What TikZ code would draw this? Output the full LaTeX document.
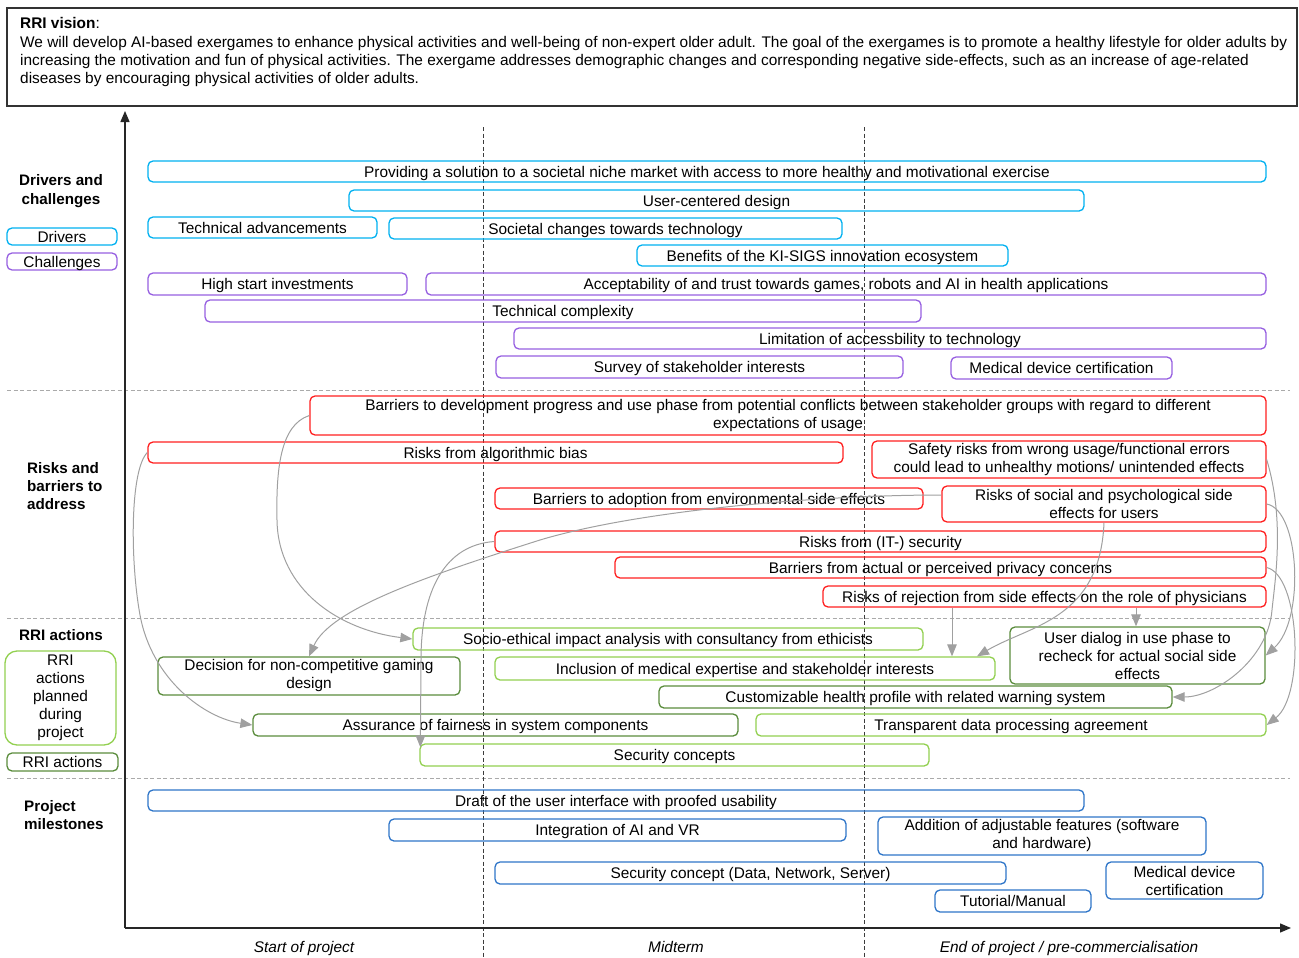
\documentclass[tikz,border=0pt]{standalone}
\usepackage{fontspec}
\setmainfont{Liberation Sans}
\usetikzlibrary{arrows.meta}
\definecolor{cdrv}{RGB}{0,176,240}
\definecolor{cchl}{RGB}{150,95,225}
\definecolor{crsk}{RGB}{255,30,30}
\definecolor{clg}{RGB}{146,208,80}
\definecolor{cdg}{RGB}{90,140,60}
\definecolor{cmst}{RGB}{46,117,200}
\definecolor{carr}{RGB}{160,160,160}
\definecolor{csep}{RGB}{170,170,170}
\definecolor{cvdash}{RGB}{60,60,60}
\newcommand\mybx[7]{\node[#2, minimum width={(#5-#3)*1pt}, minimum height={(#6-#4)*1pt}] (#1) at ({(#3+#5)/2},{(#4+#6)/2}) {#7};}
\begin{document}
\begin{tikzpicture}[x=1pt,y=-1pt,
  txt/.style={inner sep=0pt, font=\fontsize{15.4}{18}\selectfont},
  bxs/.style={txt, draw, line width=1.3pt, rounded corners=5pt, align=center},
  one/.style={text height=11pt, text depth=0pt},
  drv/.style={bxs, draw=cdrv},
  chl/.style={bxs, draw=cchl},
  rsk/.style={bxs, draw=crsk},
  rlg/.style={bxs, draw=clg},
  rdg/.style={bxs, draw=cdg},
  mst/.style={bxs, draw=cmst},
  lbl/.style={txt, font=\fontsize{15.2}{18.3}\selectfont\bfseries},
  sep/.style={draw=csep, line width=0.9pt, dash pattern=on 4pt off 2.5pt},
  vdash/.style={draw=cvdash, line width=1pt, dash pattern=on 4pt off 2.5pt},
  axis/.style={draw=black!85, line width=1.4pt, -{Triangle[length=11pt,width=9pt]}},
  arr/.style={draw=carr, line width=1pt, -{Triangle[length=12pt,width=9.5pt]}}]
\useasboundingbox (0,0) rectangle (1299,958);

% vision box
\draw[draw=black!80, line width=1.2pt] (7,8) rectangle (1297,106);
\node[txt, one, anchor=west] (vt) at (20,23.5) {\textbf{RRI vision}:};
\node[txt, one, anchor=west] (v1) at (20,42.5) {\hbox to 1267pt{We will develop AI-based exergames to enhance physical activities and well-being of non-expert older adult. The goal of the exergames is to promote a healthy lifestyle for older adults by}};
\node[txt, one, anchor=west] (v2) at (20,60.5) {increasing the motivation and fun of physical activities. The exergame addresses demographic changes and corresponding negative side-effects, such as an increase of age-related};
\node[txt, one, anchor=west] (v3) at (20,78.5) {diseases by encouraging physical activities of older adults.};

% separators
\coordinate (s1a) at (7,390); \coordinate (s1b) at (1290,390);
\coordinate (s2a) at (7,618); \coordinate (s2b) at (1290,618);
\coordinate (s3a) at (7,778); \coordinate (s3b) at (1290,778);
\draw[sep] (s1a) -- (s1b);
\draw[sep] (s2a) -- (s2b);
\draw[sep] (s3a) -- (s3b);
\coordinate (m1a) at (483,127); \coordinate (m1b) at (483,958);
\coordinate (m2a) at (864,127); \coordinate (m2b) at (864,958);
\draw[vdash] (m1a) -- (m1b);
\draw[vdash] (m2a) -- (m2b);

% axes
\coordinate (o) at (125,928);
\coordinate (ytop) at (125,111);
\coordinate (xend) at (1291,928);
\draw[axis] (o) -- (ytop);
\draw[axis] (o) -- (xend);

% axis labels
\node[txt, one, font=\fontsize{15.4}{18}\selectfont\itshape] (t1) at (304,947) {Start of project};
\node[txt, one, font=\fontsize{15.4}{18}\selectfont\itshape] (t2) at (676,947) {Midterm};
\node[txt, one, font=\fontsize{15.4}{18}\selectfont\itshape] (t3) at (1069,947) {End of project / pre-commercialisation};

% left labels
\node[lbl, align=center] (ldc) at (61,191) {Drivers and\\challenges};
\mybx{lgd}{drv,one}{7}{228}{117}{245}{Drivers}
\mybx{lgc}{chl,one}{7}{253}{117}{270}{Challenges}
\node[lbl, align=left, anchor=west] (lrb) at (27,486) {Risks and\\barriers to\\address};
\node[lbl, one] (lra) at (61,634.5) {RRI actions};
\mybx{lgp}{rlg,rounded corners=12pt}{5}{651}{116}{745}{RRI\\actions\\planned\\during\\project}
\mybx{lga}{rdg,one}{7}{753}{118}{771}{RRI actions}
\node[lbl, align=left, anchor=west] (lpm) at (24,815) {Project\\milestones};

% drivers
\mybx{d1}{drv,one}{148}{161}{1266}{182}{Providing a solution to a societal niche market with access to more healthy and motivational exercise}
\mybx{d2}{drv,one}{349}{190}{1084}{211}{User-centered design}
\mybx{d3}{drv,one}{148}{217}{377}{238}{Technical advancements}
\mybx{d4}{drv,one}{389}{218}{842}{239}{Societal changes towards technology}
\mybx{d5}{drv,one}{637}{245}{1008}{266}{Benefits of the KI-SIGS innovation ecosystem}
% challenges
\mybx{c1}{chl,one}{148}{273}{407}{295}{High start investments}
\mybx{c2}{chl,one}{426}{273}{1266}{295}{Acceptability of and trust towards games, robots and AI in health applications}
\mybx{c3}{chl,one}{205}{300}{921}{322}{Technical complexity}
\mybx{c4}{chl,one}{514}{328}{1266}{349}{Limitation of accessbility to technology}
\mybx{c5}{chl,one}{496}{356}{903}{378}{Survey of stakeholder interests}
\mybx{c6}{chl,one}{951}{357}{1172}{379}{Medical device certification}
% risks
\mybx{b12}{rsk}{310}{396}{1266}{435}{Barriers to development progress and use phase from potential conflicts between stakeholder groups with regard to different\\expectations of usage}
\mybx{b13}{rsk,one}{148}{442}{843}{463}{Risks from algorithmic bias}
\mybx{b14}{rsk}{872}{441}{1266}{478}{Safety risks from wrong usage/functional errors\\could lead to unhealthy motions/ unintended effects}
\mybx{b15}{rsk,one}{495}{488}{923}{509}{Barriers to adoption from environmental side effects}
\mybx{b16}{rsk}{942}{486}{1266}{522}{Risks of social and psychological side\\effects for users}
\mybx{b17}{rsk,one}{495}{531}{1266}{552}{Risks from (IT-) security}
\mybx{b18}{rsk,one}{615}{557}{1266}{578}{Barriers from actual or perceived privacy concerns}
\mybx{b19}{rsk,one}{823}{586}{1266}{607}{Risks of rejection from side effects on the role of physicians}
% RRI actions
\mybx{a20}{rlg,one}{413}{628}{923}{650}{Socio-ethical impact analysis with consultancy from ethicists}
\mybx{a21}{rdg}{158}{657}{460}{695}{Decision for non-competitive gaming\\design}
\mybx{a22}{rlg,one}{495}{657}{995}{680}{Inclusion of medical expertise and stakeholder interests}
\mybx{a23}{rdg}{1010}{627}{1265}{684}{User dialog in use phase to\\recheck for actual social side\\effects}
\mybx{a24}{rdg,one}{659}{686}{1172}{708}{Customizable health profile with related warning system}
\mybx{a25}{rdg,one}{253}{714}{738}{736}{Assurance of fairness in system components}
\mybx{a26}{rlg,one}{756}{714}{1266}{736}{Transparent data processing agreement}
\mybx{a27}{rlg,one}{420}{744}{929}{766}{Security concepts}
% milestones
\mybx{p1}{mst,one}{148}{790}{1084}{811}{Draft of the user interface with proofed usability}
\mybx{p2}{mst,one}{389}{819}{846}{841}{Integration of AI and VR}
\mybx{p3}{mst}{878}{817}{1206}{855}{Addition of adjustable features (software\\and hardware)}
\mybx{p4}{mst,one}{495}{862}{1006}{884}{Security concept (Data, Network, Server)}
\mybx{p5}{mst}{1106}{862}{1263}{899}{Medical device\\certification}
\mybx{p6}{mst,one}{935}{890}{1091}{912}{Tutorial/Manual}

% connectors
\draw[arr] (b12.west) .. controls (280,425) and (276,470) .. (277,520) .. controls (278,590) and (340,630) .. (a20.west);
\draw[arr] (b13.west) .. controls (130,470) and (130,560) .. (140,615) .. controls (152,680) and (205,718) .. (a25.west);
\draw[arr] ([yshift=9pt]b16.west) .. controls (820,495) and (640,510) .. (540,540) .. controls (420,578) and (330,610) .. (a21.north);
\draw[arr] (b17.west) .. controls (445,545) and (421,590) .. (421,660) -- ([xshift=1pt,yshift=-4pt]a27.north west);
\draw[arr] (b19.south -| 952,0) -- (a22.north -| 952,0);
\draw[arr] (b19.south -| 1136,0) -- (a23.north -| 1136,0);
\draw[arr] (b16.south) .. controls (1100,620) and (1030,625) .. (a22.north -| 977,0);
\draw[arr] (b14.east) .. controls (1285,520) and (1275,580) .. (1272,610) .. controls (1268,660) and (1215,697) .. (a24.east);
\draw[arr] (b16.east) .. controls (1300,510) and (1305,620) .. (a23.east);
\draw[arr] (b18.east) .. controls (1300,575) and (1305,695) .. (a26.east);
\end{tikzpicture}
\end{document}
